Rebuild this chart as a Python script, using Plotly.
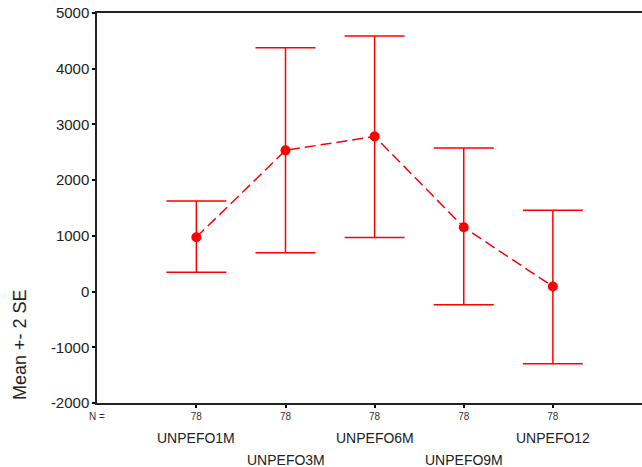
import plotly.graph_objects as go

categories = ["UNPEFO1M", "UNPEFO3M", "UNPEFO6M", "UNPEFO9M", "UNPEFO12"]
n_values = [78, 78, 78, 78, 78]
means = [975, 2535, 2785, 1155, 90]
upper = [1625, 4375, 4585, 2575, 1460]
lower = [345, 695, 970, -235, -1295]
y_ticks = [-2000, -1000, 0, 1000, 2000, 3000, 4000, 5000]
y_tick_labels = ["-2000", "-1000", "0", "1000", "2000", "3000", "4000", "5000"]
label_rows = [0, 1, 0, 1, 0]

x_idx = list(range(len(categories)))
err_plus = [u - m for u, m in zip(upper, means)]
err_minus = [m - l for m, l in zip(means, lower)]

RED = "#ff0000"
fig = go.Figure()
fig.add_trace(go.Scatter(
    x=x_idx, y=means, mode="lines+markers",
    line=dict(color=RED, width=1.5, dash="11px,5px"),
    marker=dict(color=RED, size=10),
    error_y=dict(type="data", symmetric=False, array=err_plus, arrayminus=err_minus,
                 color=RED, thickness=1.5, width=30),
    showlegend=False,
))

font = "Liberation Sans, Arial, sans-serif"
fig.update_layout(
    width=642, height=467,
    margin=dict(l=97, r=0, t=13, b=64),
    paper_bgcolor="white", plot_bgcolor="white",
    font=dict(family=font, color="#222"),
    xaxis=dict(
        range=[-1.115, 5.0], tickmode="array", tickvals=x_idx,
        ticktext=[str(n) for n in n_values],
        tickfont=dict(size=10, color="#333"),
        ticks="outside", ticklen=3, tickwidth=2, tickcolor="black",
        showline=True, linecolor="#222", linewidth=1.5, mirror=True,
        showgrid=False, zeroline=False, automargin=False,
    ),
    yaxis=dict(
        range=[-2000, 5000], tickmode="array", tickvals=y_ticks,
        ticktext=y_tick_labels, ticklabeloverflow="allow",
        tickfont=dict(size=15, color="#222"),
        ticks="outside", ticklen=3, tickwidth=2, tickcolor="black",
        showline=True, linecolor="#222", linewidth=1.5, mirror=True,
        showgrid=False, zeroline=False, automargin=False,
    ),
)

# y-axis title, placed low as in the original
fig.add_annotation(x=-0.141, xref="paper", y=0.149, yref="paper",
                   text="Mean +- 2 SE", textangle=-90, showarrow=False,
                   font=dict(size=18, color="#222"), xanchor="center", yanchor="middle")

fig.add_annotation(x=0, xref="paper", y=0, yref="paper", yshift=-6,
                   text="N =", showarrow=False, font=dict(size=10, color="#333"),
                   xanchor="center", yanchor="top")
for i, (cat, row) in enumerate(zip(categories, label_rows)):
    fig.add_annotation(x=i, xref="x", y=0, yref="paper",
                       yshift=-25 - 22 * row, text=cat, showarrow=False,
                       font=dict(size=14, color="#222"), xanchor="center", yanchor="top")

fig.write_html("out.html", config={"displayModeBar": False},
               post_script="document.body.style.margin='0';document.body.style.overflow='hidden';")
